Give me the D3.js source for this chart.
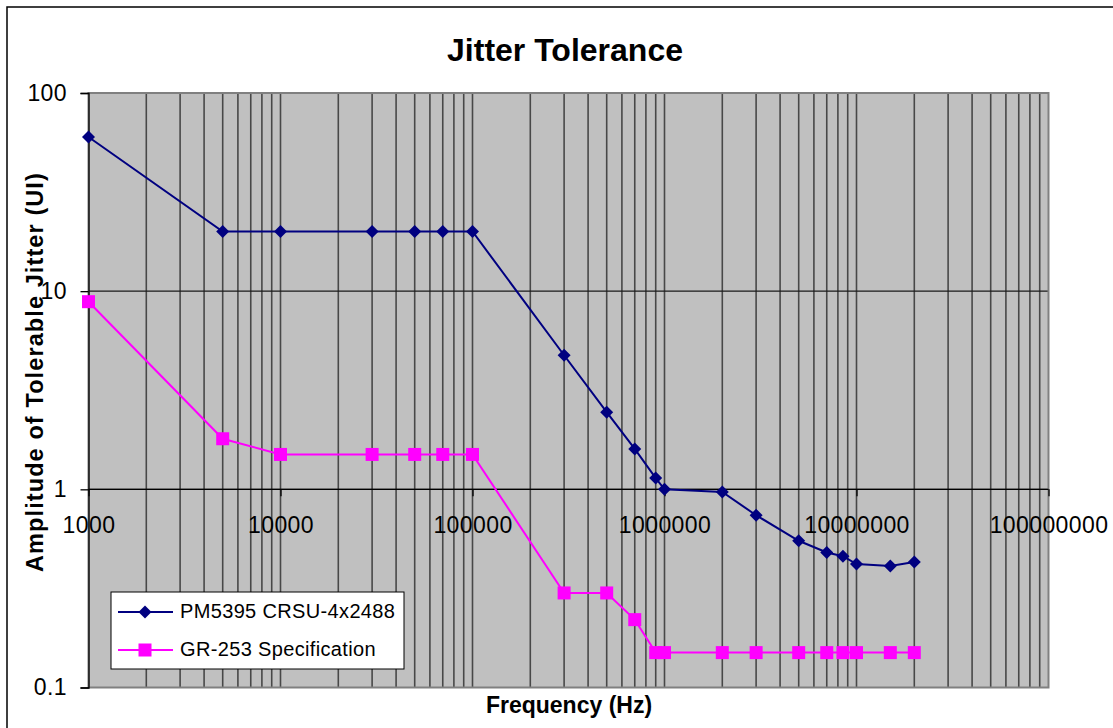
<!DOCTYPE html>
<html>
<head>
<meta charset="utf-8">
<script src="https://cdn.jsdelivr.net/npm/d3@7"></script>
<style>
  body { margin: 0; background: #fff; }
  svg { display: block; font-family: "Liberation Sans", Arial, sans-serif; }
</style>
</head>
<body>
<svg id="chart" width="1113" height="728"></svg>
<script>
// frequencies (Hz) shared by both series
var freqs = [1000, 5000, 10000, 30000, 50000, 70000, 100000, 300000, 500000, 700000,
             900000, 1000000, 2000000, 3000000, 5000000, 7000000, 8500000, 10000000, 15000000, 20000000];
// PM5395 CRSU-4x2488 measured tolerance (UI)
var pmValues = [60, 20, 20, 20, 20, 20, 20, 4.75, 2.45, 1.6,
                1.14, 1.0, 0.97, 0.74, 0.55, 0.48, 0.46, 0.42, 0.41, 0.43];
// GR-253 mask (UI)
var grValues = [8.85, 1.8, 1.5, 1.5, 1.5, 1.5, 1.5, 0.3, 0.3, 0.22,
                0.15, 0.15, 0.15, 0.15, 0.15, 0.15, 0.15, 0.15, 0.15, 0.15];
var xTicks = [1000, 10000, 100000, 1000000, 10000000, 100000000];
var yTicks = [0.1, 1, 10, 100];
var seriesNames = ["PM5395 CRSU-4x2488", "GR-253 Specification"];

var svg = d3.select("#chart");
// note: "top" is taken by window.top, so use plot* names
var plotL = 88.5, plotR = 1048.5, plotT = 93, plotB = 687.5;

var x = d3.scaleLog().domain([1e3, 1e8]).range([plotL, plotR]);
var y = d3.scaleLog().domain([0.1, 100]).range([plotB, plotT]);

// outer chart frame
svg.append("rect")
    .attr("x", 7).attr("y", 7).attr("width", 1200).attr("height", 800)
    .attr("fill", "#fff").attr("stroke", "#000").attr("stroke-width", 1.5);

// plot area
svg.append("rect")
    .attr("x", plotL).attr("y", plotT).attr("width", plotR - plotL).attr("height", plotB - plotT)
    .attr("fill", "#c0c0c0");

// vertical grid (major + minor on the log axis)
var gridX = [];
for (var p = 3; p < 8; p++) {
    for (var m = 1; m < 10; m++) {
        var v = m * Math.pow(10, p);
        if (v > 1000) gridX.push(v);
    }
}
svg.append("g").selectAll("line")
    .data(gridX)
    .enter().append("line")
    .attr("x1", function(d) { return x(d); })
    .attr("x2", function(d) { return x(d); })
    .attr("y1", plotT).attr("y2", plotB)
    .attr("stroke", "#484848").attr("stroke-width", 1.6);

// horizontal grid at decades
svg.append("g").selectAll("line")
    .data([1, 10])
    .enter().append("line")
    .attr("x1", plotL).attr("x2", plotR)
    .attr("y1", function(d) { return y(d); })
    .attr("y2", function(d) { return y(d); })
    .attr("stroke", "#1a1a1a").attr("stroke-width", 1.3);

// plot area border
svg.append("rect")
    .attr("x", plotL).attr("y", plotT).attr("width", plotR - plotL).attr("height", plotB - plotT)
    .attr("fill", "none").attr("stroke", "#808080").attr("stroke-width", 2);

// y axis
var yAxis = svg.append("g")
    .attr("transform", "translate(" + plotL + ",0)")
    .call(d3.axisLeft(y).tickValues(yTicks).tickSize(8).tickPadding(13.5)
        .tickFormat(function(d) { return d3.format("")(d); }));

// x axis crosses at y = 1
var xAxis = svg.append("g")
    .attr("transform", "translate(0," + y(1) + ")")
    .call(d3.axisBottom(x).tickValues(xTicks).tickSize(7).tickPadding(20)
        .tickFormat(d3.format("d")));

[yAxis, xAxis].forEach(function(a) {
    a.select(".domain").attr("stroke", "#000").attr("stroke-width", 1.3);
    a.selectAll(".tick line").attr("stroke", "#000").attr("stroke-width", 1.3);
    a.selectAll(".tick text")
        .attr("fill", "#000")
        .style("font-size", "23px")
        .style("letter-spacing", "0.4px")
        .style("font-family", "'Liberation Sans', Arial, sans-serif");
});
xAxis.select(".domain").attr("d", "M" + plotL + ",0H" + plotR);

// series
var pm = freqs.map(function(f, i) { return {f: f, v: pmValues[i]}; });
var gr = freqs.map(function(f, i) { return {f: f, v: grValues[i]}; });

var line = d3.line()
    .x(function(d) { return x(d.f); })
    .y(function(d) { return y(d.v); });

svg.append("path").datum(gr)
    .attr("d", line).attr("fill", "none")
    .attr("stroke", "#ff00ff").attr("stroke-width", 2);
svg.append("path").datum(pm)
    .attr("d", line).attr("fill", "none")
    .attr("stroke", "#000080").attr("stroke-width", 2);

var diamond = "M0,-6.5L6.5,0L0,6.5L-6.5,0Z";

svg.append("g").selectAll("rect")
    .data(gr)
    .enter().append("rect")
    .attr("x", function(d) { return x(d.f) - 6.5; })
    .attr("y", function(d) { return y(d.v) - 6.5; })
    .attr("width", 13).attr("height", 13)
    .attr("fill", "#ff00ff");

svg.append("g").selectAll("path")
    .data(pm)
    .enter().append("path")
    .attr("d", diamond)
    .attr("transform", function(d) { return "translate(" + x(d.f) + "," + y(d.v) + ")"; })
    .attr("fill", "#000080");

// legend
var legend = svg.append("g");
legend.append("rect")
    .attr("x", 111).attr("y", 592).attr("width", 293).attr("height", 77)
    .attr("fill", "#fff").attr("stroke", "#000").attr("stroke-width", 1);

var items = legend.selectAll("g.item")
    .data(seriesNames)
    .enter().append("g")
    .attr("class", "item")
    .attr("transform", function(d, i) { return "translate(0," + (612 + i * 38) + ")"; });

items.append("line")
    .attr("x1", 118).attr("x2", 173).attr("y1", 0).attr("y2", 0)
    .attr("stroke", function(d, i) { return i === 0 ? "#000080" : "#ff00ff"; })
    .attr("stroke-width", 2);
items.each(function(d, i) {
    var g = d3.select(this);
    if (i === 0) {
        g.append("path").attr("d", diamond).attr("transform", "translate(145,0)").attr("fill", "#000080");
    } else {
        g.append("rect").attr("x", 138.5).attr("y", -6.5).attr("width", 13).attr("height", 13).attr("fill", "#ff00ff");
    }
});
items.append("text")
    .attr("x", 180).attr("y", 5.5)
    .style("font-size", "20px")
    .style("letter-spacing", "0.35px")
    .text(function(d) { return d; });

// titles
svg.append("text")
    .attr("x", 565).attr("y", 61)
    .attr("text-anchor", "middle")
    .style("font-size", "32px").style("font-weight", "bold")
    .text("Jitter Tolerance");

svg.append("text")
    .attr("x", 569).attr("y", 713)
    .attr("text-anchor", "middle")
    .style("font-size", "23px").style("font-weight", "bold")
    .text("Frequency (Hz)");

svg.append("text")
    .attr("transform", "translate(43,572) rotate(-90)")
    .style("font-size", "23.5px").style("font-weight", "bold")
    .style("letter-spacing", "1.1px")
    .text("Amplitude of Tolerable Jitter (UI)");
</script>
</body>
</html>
